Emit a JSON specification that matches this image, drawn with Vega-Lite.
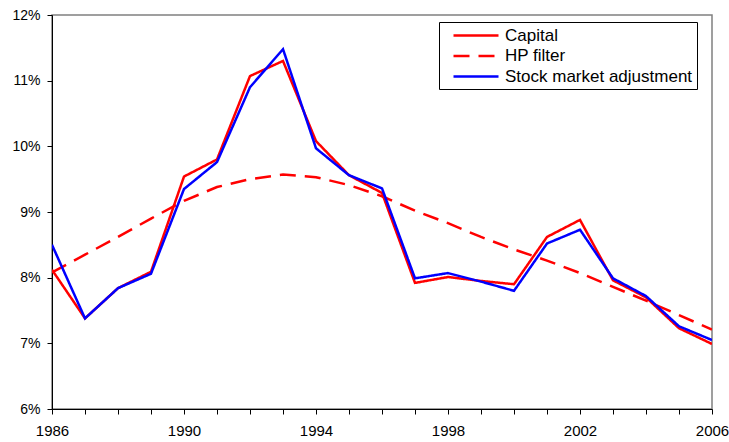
{
  "$schema": "https://vega.github.io/schema/vega-lite/v6.json",
  "width": 660,
  "height": 394,
  "autosize": {"type": "none"},
  "padding": {"left": 52, "top": 15, "right": 17, "bottom": 33},
  "background": "white",
  "config": {
    "view": {"stroke": "#808080", "strokeWidth": 1.5},
    "font": "Liberation Sans",
    "axis": {"labelFont": "Liberation Sans", "labelColor": "black", "domainColor": "black", "tickColor": "black", "grid": false, "title": null, "domainWidth": 1, "tickWidth": 1}
  },
  "data": {
    "values": [
      {"year": 1986, "series": "Capital", "value": 0.0812},
      {"year": 1987, "series": "Capital", "value": 0.0738},
      {"year": 1988, "series": "Capital", "value": 0.0784},
      {"year": 1989, "series": "Capital", "value": 0.0809},
      {"year": 1990, "series": "Capital", "value": 0.0954},
      {"year": 1991, "series": "Capital", "value": 0.0980},
      {"year": 1992, "series": "Capital", "value": 0.1107},
      {"year": 1993, "series": "Capital", "value": 0.1130},
      {"year": 1994, "series": "Capital", "value": 0.1008},
      {"year": 1995, "series": "Capital", "value": 0.0956},
      {"year": 1996, "series": "Capital", "value": 0.0929},
      {"year": 1997, "series": "Capital", "value": 0.0792},
      {"year": 1998, "series": "Capital", "value": 0.0801},
      {"year": 1999, "series": "Capital", "value": 0.0795},
      {"year": 2000, "series": "Capital", "value": 0.0790},
      {"year": 2001, "series": "Capital", "value": 0.0862},
      {"year": 2002, "series": "Capital", "value": 0.0888},
      {"year": 2003, "series": "Capital", "value": 0.0796},
      {"year": 2004, "series": "Capital", "value": 0.0770},
      {"year": 2005, "series": "Capital", "value": 0.0723},
      {"year": 2006, "series": "Capital", "value": 0.0699},
      {"year": 1986, "series": "HP filter", "value": 0.0808},
      {"year": 1987, "series": "HP filter", "value": 0.0835},
      {"year": 1988, "series": "HP filter", "value": 0.0862},
      {"year": 1989, "series": "HP filter", "value": 0.0890},
      {"year": 1990, "series": "HP filter", "value": 0.0917},
      {"year": 1991, "series": "HP filter", "value": 0.0938},
      {"year": 1992, "series": "HP filter", "value": 0.0950},
      {"year": 1993, "series": "HP filter", "value": 0.0957},
      {"year": 1994, "series": "HP filter", "value": 0.0953},
      {"year": 1995, "series": "HP filter", "value": 0.0941},
      {"year": 1996, "series": "HP filter", "value": 0.0924},
      {"year": 1997, "series": "HP filter", "value": 0.0902},
      {"year": 1998, "series": "HP filter", "value": 0.0883},
      {"year": 1999, "series": "HP filter", "value": 0.0862},
      {"year": 2000, "series": "HP filter", "value": 0.0843},
      {"year": 2001, "series": "HP filter", "value": 0.0826},
      {"year": 2002, "series": "HP filter", "value": 0.0807},
      {"year": 2003, "series": "HP filter", "value": 0.0786},
      {"year": 2004, "series": "HP filter", "value": 0.0765},
      {"year": 2005, "series": "HP filter", "value": 0.0743},
      {"year": 2006, "series": "HP filter", "value": 0.0721},
      {"year": 1986, "series": "Stock market adjustment", "value": 0.0850},
      {"year": 1987, "series": "Stock market adjustment", "value": 0.0738},
      {"year": 1988, "series": "Stock market adjustment", "value": 0.0784},
      {"year": 1989, "series": "Stock market adjustment", "value": 0.0806},
      {"year": 1990, "series": "Stock market adjustment", "value": 0.0935},
      {"year": 1991, "series": "Stock market adjustment", "value": 0.0976},
      {"year": 1992, "series": "Stock market adjustment", "value": 0.1090},
      {"year": 1993, "series": "Stock market adjustment", "value": 0.1148},
      {"year": 1994, "series": "Stock market adjustment", "value": 0.0997},
      {"year": 1995, "series": "Stock market adjustment", "value": 0.0956},
      {"year": 1996, "series": "Stock market adjustment", "value": 0.0936},
      {"year": 1997, "series": "Stock market adjustment", "value": 0.0799},
      {"year": 1998, "series": "Stock market adjustment", "value": 0.0807},
      {"year": 1999, "series": "Stock market adjustment", "value": 0.0794},
      {"year": 2000, "series": "Stock market adjustment", "value": 0.0780},
      {"year": 2001, "series": "Stock market adjustment", "value": 0.0852},
      {"year": 2002, "series": "Stock market adjustment", "value": 0.0873},
      {"year": 2003, "series": "Stock market adjustment", "value": 0.0799},
      {"year": 2004, "series": "Stock market adjustment", "value": 0.0772},
      {"year": 2005, "series": "Stock market adjustment", "value": 0.0726},
      {"year": 2006, "series": "Stock market adjustment", "value": 0.0705}
    ]
  },
  "mark": {"type": "line", "strokeWidth": 2.5, "clip": true},
  "encoding": {
    "x": {
      "field": "year", "type": "quantitative",
      "scale": {"domain": [1986, 2006], "nice": false, "zero": false},
      "axis": {
        "values": [1986,1987,1988,1989,1990,1991,1992,1993,1994,1995,1996,1997,1998,1999,2000,2001,2002,2003,2004,2005,2006],
        "labelExpr": "(datum.value - 1986) % 4 == 0 ? datum.value : ''",
        "labelFontSize": 15, "tickSize": 5, "labelPadding": 9, "labelOverlap": false, "labelFlush": false, "labelBound": false
      }
    },
    "y": {
      "field": "value", "type": "quantitative",
      "scale": {"domain": [0.06, 0.12], "nice": false, "zero": false},
      "axis": {
        "values": [0.06, 0.07, 0.08, 0.09, 0.10, 0.11, 0.12],
        "format": ".0%", "labelFontSize": 14, "tickSize": 5, "labelPadding": 7
      }
    },
    "color": {
      "field": "series", "type": "nominal",
      "scale": {"domain": ["Capital", "HP filter", "Stock market adjustment"], "range": ["#FF0000", "#FF0000", "#0000FF"]},
      "legend": {
        "title": null, "orient": "none", "legendX": 387, "legendY": 7,
        "strokeColor": "black", "fillColor": "white", "padding": 4.5, "symbolOffset": 23.5,
        "symbolType": "M-3,0H3", "symbolSize": 225, "symbolStrokeWidth": 2.5,
        "labelFontSize": 17, "labelFont": "Liberation Sans", "labelColor": "black", "labelOffset": 20, "rowPadding": 3.5, "labelLimit": 400
      }
    },
    "strokeDash": {
      "field": "series", "type": "nominal",
      "scale": {"domain": ["Capital", "HP filter", "Stock market adjustment"], "range": [[1, 0], [16, 9], [1, 0]]},
      "legend": null
    }
  }
}
